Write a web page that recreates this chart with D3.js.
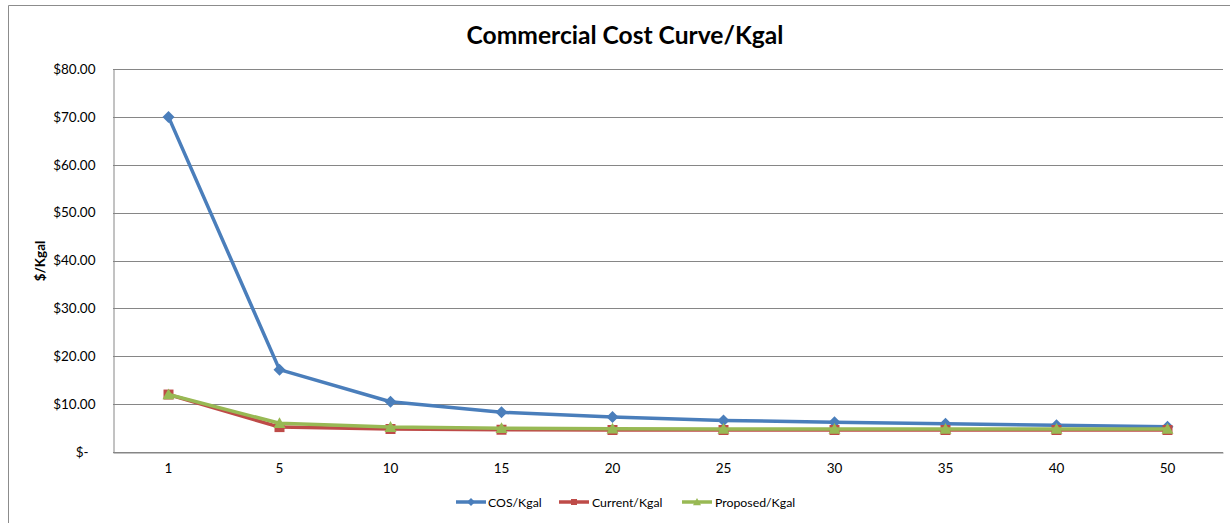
<!DOCTYPE html>
<html>
<head>
<meta charset="utf-8">
<script src="https://cdn.jsdelivr.net/npm/d3@7"></script>
<style>
  html, body { margin: 0; padding: 0; background: #fff; }
  svg { display: block; font-family: Lato, "Open Sans", sans-serif; }
</style>
</head>
<body>
<svg id="chart" width="1230" height="523"></svg>
<script>
// Usage tiers (Kgal) along the category axis
const categories = ["1", "5", "10", "15", "20", "25", "30", "35", "40", "50"];

// Cost per Kgal for each tier
const cosValues      = [70.0, 17.2, 10.5, 8.3, 7.3, 6.6, 6.2, 5.9, 5.6, 5.3];
const currentValues  = [12.0, 5.2, 4.8, 4.65, 4.6, 4.6, 4.6, 4.6, 4.6, 4.6];
const proposedValues = [12.0, 6.0, 5.2, 4.95, 4.85, 4.8, 4.8, 4.8, 4.8, 4.8];

const seriesNames = ["COS/Kgal", "Current/Kgal", "Proposed/Kgal"];
const yTicks = [0, 10, 20, 30, 40, 50, 60, 70, 80];

const series = [
  { name: seriesNames[0], values: cosValues,      color: "#4A7EBB", marker: "diamond" },
  { name: seriesNames[1], values: currentValues,  color: "#BE4B48", marker: "square" },
  { name: seriesNames[2], values: proposedValues, color: "#98B954", marker: "triangle" }
];

const svg = d3.select("#chart");
const plot = { left: 113, right: 1223, top: 69, bottom: 452 };

// Outer chart frame (only top and left edges fall inside the view)
svg.append("path")
  .attr("d", "M8.5,523 V5.5 H1230")
  .attr("fill", "none")
  .attr("stroke", "#8c8c8c")
  .attr("stroke-width", 1);

const x = d3.scaleBand().domain(categories).range([plot.left, plot.right]);
const y = d3.scaleLinear().domain([0, 80]).range([plot.bottom, plot.top]);
const cx = c => x(c) + x.bandwidth() / 2;

// Horizontal gridlines
svg.append("g").selectAll("line")
  .data(yTicks)
  .join("line")
  .attr("x1", plot.left).attr("x2", plot.right)
  .attr("y1", d => Math.round(y(d)) + 0.5).attr("y2", d => Math.round(y(d)) + 0.5)
  .attr("stroke", "#868686").attr("stroke-width", 1);

// Value axis
const fmt = d => d === 0 ? "$-" : "$" + d3.format(".2f")(d);
const yAxis = svg.append("g")
  .attr("transform", `translate(${plot.left + 0.5},0)`)
  .call(d3.axisLeft(y).tickValues(yTicks).tickFormat(fmt).tickSize(0).tickPadding(18));
yAxis.select(".domain").attr("stroke", "#868686");
yAxis.selectAll("text")
  .attr("font-size", 13.5).attr("fill", "#000")
  .attr("font-family", "Lato, sans-serif")
  .attr("dx", d => d === 0 ? -7 : 0);

// Category axis
const xAxis = svg.append("g")
  .attr("transform", `translate(0,${Math.round(plot.bottom) + 0.5})`)
  .call(d3.axisBottom(x).tickSize(0).tickPadding(11));
xAxis.select(".domain").attr("stroke", "#868686");
xAxis.selectAll("text")
  .attr("font-size", 13.5).attr("fill", "#000")
  .attr("font-family", "Lato, sans-serif");

// Title
svg.append("text")
  .attr("x", 625).attr("y", 44)
  .attr("text-anchor", "middle")
  .attr("font-size", 24.6).attr("font-weight", "bold")
  .text("Commercial Cost Curve/Kgal");

// Value axis title
svg.append("text")
  .attr("transform", "translate(45,261) rotate(-90)")
  .attr("text-anchor", "middle")
  .attr("font-size", 13.5).attr("font-weight", "bold")
  .text("$/Kgal");

// Marker shapes
function markerPath(type, size) {
  const s = size / 2;
  if (type === "diamond") return `M0,${-s} L${s},0 L0,${s} L${-s},0 Z`;
  if (type === "square") return `M${-s},${-s} H${s} V${s} H${-s} Z`;
  return `M0,${-s} L${s},${s * 0.8} L${-s},${s * 0.8} Z`;
}
const markerSize = { diamond: 12, square: 10, triangle: 12 };

const line = d3.line().x((d, i) => cx(categories[i])).y(d => y(d));

series.forEach(s => {
  const g = svg.append("g");
  g.append("path")
    .datum(s.values)
    .attr("d", line)
    .attr("fill", "none")
    .attr("stroke", s.color)
    .attr("stroke-width", 3.5)
    .attr("stroke-linejoin", "round");
  g.selectAll("path.m")
    .data(s.values)
    .join("path")
    .attr("class", "m")
    .attr("transform", (d, i) => `translate(${cx(categories[i])},${y(d)})`)
    .attr("d", markerPath(s.marker, markerSize[s.marker]))
    .attr("fill", s.color);
});

// Legend
const legendItems = [
  { x: 456, tx: 488 },
  { x: 559, tx: 592 },
  { x: 682, tx: 715 }
];
series.forEach((s, i) => {
  const li = legendItems[i];
  const g = svg.append("g").attr("transform", `translate(${li.x},502)`);
  g.append("line")
    .attr("x1", 0).attr("x2", 30).attr("y1", 0).attr("y2", 0)
    .attr("stroke", s.color).attr("stroke-width", 3.5);
  g.append("path")
    .attr("transform", "translate(15,0)")
    .attr("d", markerPath(s.marker, markerSize[s.marker] - 4))
    .attr("fill", s.color);
  svg.append("text")
    .attr("x", li.tx).attr("y", 506.5)
    .attr("font-size", 12.3)
    .text(s.name);
});
</script>
</body>
</html>
